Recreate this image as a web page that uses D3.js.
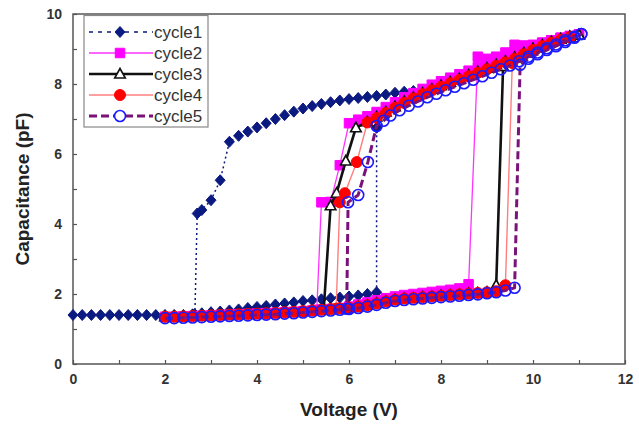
<!DOCTYPE html>
<html>
<head>
<meta charset="utf-8">
<script src="https://cdn.jsdelivr.net/npm/d3@7"></script>
<style>
  html, body { margin: 0; padding: 0; background: #fff; }
  svg { display: block; font-family: "Liberation Sans", Arial, sans-serif; }
</style>
</head>
<body>
<svg id="chart" width="639" height="425"></svg>
<script>
// ---------------- DATA ----------------
const seriesNames = ["cycle1", "cycle2", "cycle3", "cycle4", "cycle5"];
const xTicks = [0, 1, 2, 3, 4, 5, 6, 7, 8, 9, 10, 11, 12];
const yTicks = [0, 1, 2, 3, 4, 5, 6, 7, 8, 9, 10];

// cycle1 : forward sweep (0 -> 11 V), then reverse sweep (11 -> 2.65 V)
const c1FwdV = [0,0.2,0.4,0.6,0.8,1.0,1.2,1.4,1.6,1.8,2.0,2.2,2.4,2.6,2.8,3.0,3.2,3.4,3.6,3.8,4.0,4.2,4.4,4.6,4.8,5.0,5.2,5.4,5.6,5.8,6.0,6.2,6.4,6.6,6.6,6.8,7.0,7.2,7.4,7.6,7.8,8.0,8.2,8.4,8.6,8.8,9.0,9.2,9.4,9.6,9.8,10.0,10.2,10.4,10.6,10.8,11.0];
const c1FwdC = [1.40,1.40,1.40,1.40,1.40,1.40,1.40,1.40,1.40,1.40,1.40,1.40,1.40,1.42,1.45,1.48,1.50,1.53,1.56,1.60,1.63,1.66,1.70,1.73,1.76,1.80,1.82,1.85,1.88,1.90,1.93,1.96,2.00,2.05,6.75,7.20,7.35,7.50,7.62,7.74,7.85,7.95,8.05,8.15,8.25,8.35,8.45,8.55,8.65,8.75,8.88,9.00,9.10,9.20,9.28,9.35,9.40];
const c1RevV = [11.0,10.8,10.6,10.4,10.2,10.0,9.8,9.6,9.4,9.2,9.0,8.8,8.6,8.4,8.2,8.0,7.8,7.6,7.4,7.2,7.0,6.8,6.6,6.4,6.2,6.0,5.8,5.6,5.4,5.2,5.0,4.8,4.6,4.4,4.2,4.0,3.8,3.6,3.4,3.2,3.0,2.8,2.7,2.65];
const c1RevC = [9.40,9.35,9.28,9.20,9.10,9.00,8.88,8.75,8.65,8.55,8.45,8.35,8.25,8.15,8.05,7.95,7.87,7.82,7.80,7.78,7.75,7.70,7.66,7.63,7.60,7.57,7.53,7.48,7.43,7.37,7.30,7.21,7.11,7.00,6.88,6.76,6.64,6.52,6.35,5.25,4.68,4.40,4.30,1.42];

// cycle2
const c2FwdV = [2.0,2.2,2.4,2.6,2.8,3.0,3.2,3.4,3.6,3.8,4.0,4.2,4.4,4.6,4.8,5.0,5.2,5.4,5.6,5.8,6.0,6.2,6.4,6.6,6.8,7.0,7.2,7.4,7.6,7.8,8.0,8.2,8.4,8.6,8.8,9.0,9.2,9.4,9.6,9.8,10.0,10.2,10.4,10.6,10.8,11.0];
const c2FwdC = [1.35,1.35,1.36,1.37,1.38,1.39,1.40,1.41,1.42,1.43,1.44,1.45,1.46,1.48,1.49,1.51,1.53,1.55,1.57,1.60,1.64,1.70,1.76,1.82,1.88,1.93,1.97,2.00,2.03,2.06,2.09,2.12,2.16,2.28,8.78,8.72,8.78,8.90,9.12,9.10,9.12,9.18,9.25,9.32,9.37,9.42];
const c2RevV = [11.0,10.8,10.6,10.4,10.2,10.0,9.8,9.6,9.4,9.2,9.0,8.8,8.6,8.4,8.2,8.0,7.8,7.6,7.4,7.2,7.0,6.8,6.6,6.4,6.2,6.0,5.8,5.6,5.4,5.3];
const c2RevC = [9.42,9.37,9.32,9.25,9.18,9.10,9.00,8.88,8.78,8.68,8.58,8.48,8.38,8.28,8.18,8.08,7.98,7.86,7.74,7.62,7.48,7.34,7.20,7.08,6.98,6.88,5.68,4.63,4.62,1.55];

// cycle3
const c3FwdV = [2.0,2.2,2.4,2.6,2.8,3.0,3.2,3.4,3.6,3.8,4.0,4.2,4.4,4.6,4.8,5.0,5.2,5.4,5.6,5.8,6.0,6.2,6.4,6.6,6.8,7.0,7.2,7.4,7.6,7.8,8.0,8.2,8.4,8.6,8.8,9.0,9.2,9.35,9.6,9.8,10.0,10.2,10.4,10.6,10.8,11.0];
const c3FwdC = [1.35,1.35,1.36,1.37,1.38,1.39,1.40,1.41,1.42,1.43,1.44,1.45,1.46,1.48,1.49,1.51,1.53,1.55,1.57,1.59,1.61,1.64,1.68,1.73,1.79,1.84,1.87,1.89,1.91,1.93,1.95,1.97,1.99,2.01,2.03,2.05,2.25,8.50,8.75,8.88,9.00,9.10,9.20,9.28,9.35,9.40];
const c3RevV = [11.0,10.8,10.6,10.4,10.2,10.0,9.8,9.6,9.4,9.2,9.0,8.8,8.6,8.4,8.2,8.0,7.8,7.6,7.4,7.2,7.0,6.8,6.6,6.4,6.15,5.93,5.73,5.6,5.45];
const c3RevC = [9.40,9.35,9.28,9.20,9.10,9.00,8.88,8.75,8.65,8.55,8.45,8.35,8.25,8.15,8.05,7.95,7.85,7.74,7.62,7.50,7.35,7.20,7.06,6.92,6.75,5.80,4.88,4.52,1.55];

// cycle4
const c4FwdV = [2.0,2.2,2.4,2.6,2.8,3.0,3.2,3.4,3.6,3.8,4.0,4.2,4.4,4.6,4.8,5.0,5.2,5.4,5.6,5.8,6.0,6.2,6.4,6.6,6.8,7.0,7.2,7.4,7.6,7.8,8.0,8.2,8.4,8.6,8.8,9.0,9.2,9.4,9.55,9.8,10.0,10.2,10.4,10.6,10.8];
const c4FwdC = [1.35,1.35,1.36,1.37,1.38,1.39,1.40,1.41,1.42,1.43,1.44,1.45,1.46,1.48,1.49,1.51,1.53,1.55,1.57,1.59,1.61,1.64,1.68,1.73,1.79,1.84,1.87,1.89,1.91,1.93,1.95,1.97,1.99,2.01,2.03,2.05,2.08,2.25,8.60,8.85,8.97,9.08,9.18,9.26,9.33];
const c4RevV = [10.8,10.6,10.4,10.2,10.0,9.8,9.6,9.4,9.2,9.0,8.8,8.6,8.4,8.2,8.0,7.8,7.6,7.4,7.2,7.0,6.8,6.6,6.4,6.17,5.91,5.8,5.72];
const c4RevC = [9.33,9.26,9.16,9.06,8.96,8.84,8.72,8.62,8.52,8.42,8.32,8.22,8.12,8.02,7.92,7.82,7.71,7.59,7.46,7.32,7.17,7.03,6.90,5.77,4.88,4.62,1.58];

// cycle5
const c5FwdV = [2.0,2.2,2.4,2.6,2.8,3.0,3.2,3.4,3.6,3.8,4.0,4.2,4.4,4.6,4.8,5.0,5.2,5.4,5.6,5.8,6.0,6.2,6.4,6.6,6.8,7.0,7.2,7.4,7.6,7.8,8.0,8.2,8.4,8.6,8.8,9.0,9.2,9.4,9.6,9.72,9.9,10.1,10.3,10.5,10.7,10.9,11.05];
const c5FwdC = [1.31,1.31,1.32,1.33,1.34,1.35,1.36,1.37,1.38,1.39,1.40,1.41,1.42,1.44,1.45,1.47,1.49,1.51,1.53,1.55,1.57,1.60,1.64,1.69,1.75,1.80,1.83,1.85,1.87,1.89,1.91,1.93,1.95,1.97,1.99,2.02,2.05,2.10,2.18,8.55,8.72,8.85,8.97,9.08,9.20,9.32,9.43];
const c5RevV = [11.05,10.9,10.7,10.5,10.3,10.1,9.9,9.7,9.5,9.3,9.1,8.9,8.7,8.5,8.3,8.1,7.9,7.7,7.5,7.3,7.1,6.9,6.75,6.6,6.41,6.2,5.98,5.95];
const c5RevC = [9.43,9.35,9.25,9.13,9.02,8.90,8.78,8.65,8.53,8.42,8.32,8.22,8.12,8.02,7.92,7.82,7.72,7.62,7.50,7.38,7.25,7.10,6.95,6.80,5.77,4.83,4.62,1.58];

// ---------------- LAYOUT ----------------
const svg = d3.select("#chart");
const x = d3.scaleLinear().domain([0, 12]).range([73, 625]);
const y = d3.scaleLinear().domain([0, 10]).range([364, 14]);
const frameColor = "#555";

const cycles = [
  { name: seriesNames[0], fwd: [c1FwdV, c1FwdC], rev: [c1RevV, c1RevC],
    line: { stroke: "#0b1a80", width: 1.5, dash: "2,3" },
    marker: { type: "diamond", fill: "#0b1a80", stroke: "#0b1a80" } },
  { name: seriesNames[1], fwd: [c2FwdV, c2FwdC], rev: [c2RevV, c2RevC],
    line: { stroke: "#ff33ff", width: 1.3, dash: null },
    marker: { type: "square", fill: "#ff00ff", stroke: "#ff00ff" } },
  { name: seriesNames[2], fwd: [c3FwdV, c3FwdC], rev: [c3RevV, c3RevC],
    line: { stroke: "#111", width: 2.6, dash: null },
    marker: { type: "triangle", fill: "#fff", stroke: "#111" } },
  { name: seriesNames[3], fwd: [c4FwdV, c4FwdC], rev: [c4RevV, c4RevC],
    line: { stroke: "#ff7f7f", width: 1.4, dash: null },
    marker: { type: "circle", fill: "#ff0000", stroke: "#ff0000" } },
  { name: seriesNames[4], fwd: [c5FwdV, c5FwdC], rev: [c5RevV, c5RevC],
    line: { stroke: "#7a127a", width: 3, dash: "8,4" },
    marker: { type: "ocircle", fill: "none", stroke: "#1a1aff" } }
];

function markerPath(type) {
  switch (type) {
    case "diamond": return "M0,-5.5L5,0L0,5.5L-5,0Z";
    case "square": return d3.symbol(d3.symbolSquare, 90)();
    case "triangle": return "M0,-5.5L5.3,4L-5.3,4Z";
    default: return d3.symbol(d3.symbolCircle, 95)();
  }
}

// ---------------- AXES ----------------
const gx = svg.append("g").attr("transform", `translate(0,${y(0)})`)
  .call(d3.axisBottom(x).tickValues(xTicks)
    .tickFormat(d => d % 2 === 0 ? String(d) : "")
    .tickSizeInner(-4).tickSizeOuter(0).tickPadding(10));
const gy = svg.append("g").attr("transform", `translate(${x(0)},0)`)
  .call(d3.axisLeft(y).tickValues(yTicks)
    .tickFormat(d => d % 2 === 0 ? String(d) : "")
    .tickSizeInner(-4).tickSizeOuter(0).tickPadding(11));
[gx, gy].forEach(g => {
  g.select(".domain").remove();
  g.selectAll(".tick line").attr("stroke", frameColor).attr("stroke-width", 1.2);
  g.selectAll(".tick text").attr("fill", "#333").style("font-size", "14px")
    .style("font-weight", "bold")
    .style("font-family", '"Liberation Sans", Arial, sans-serif');
});

// frame
svg.append("rect")
  .attr("x", x(0)).attr("y", y(10))
  .attr("width", x(12) - x(0)).attr("height", y(0) - y(10))
  .attr("fill", "none").attr("stroke", frameColor).attr("stroke-width", 1.5);

// ---------------- SERIES ----------------
const line = d3.line().x(d => x(d[0])).y(d => y(d[1]));
const plot = svg.append("g");

cycles.forEach(c => {
  const pts = d3.zip(c.fwd[0], c.fwd[1]).concat(d3.zip(c.rev[0], c.rev[1]));
  const g = plot.append("g");
  g.append("path").datum(pts).attr("d", line)
    .attr("fill", "none").attr("stroke", c.line.stroke)
    .attr("stroke-width", c.line.width)
    .attr("stroke-dasharray", c.line.dash)
    .attr("stroke-linejoin", "round");
  const mp = markerPath(c.marker.type);
  g.selectAll("path.m").data(pts).join("path").attr("class", "m")
    .attr("d", mp)
    .attr("transform", d => `translate(${x(d[0])},${y(d[1])})`)
    .attr("fill", c.marker.fill)
    .attr("stroke", c.marker.stroke)
    .attr("stroke-width", c.marker.type === "ocircle" || c.marker.type === "triangle" ? 1.6 : 1);
});

// ---------------- LEGEND ----------------
const lg = svg.append("g");
lg.append("rect").attr("x", 84).attr("y", 15.5).attr("width", 124).attr("height", 111.5)
  .attr("fill", "#fff").attr("stroke", "#888").attr("stroke-width", 1.2);
cycles.forEach((c, i) => {
  const yy = 32 + i * 21;
  lg.append("line").attr("x1", 89).attr("x2", 153).attr("y1", yy).attr("y2", yy)
    .attr("stroke", c.line.stroke).attr("stroke-width", c.line.width)
    .attr("stroke-dasharray", c.line.dash === "2,3" ? "4,5" : c.line.dash);
  lg.append("path").attr("d", markerPath(c.marker.type))
    .attr("transform", `translate(120,${yy})`)
    .attr("fill", c.marker.type === "ocircle" ? "#fff" : c.marker.fill)
    .attr("stroke", c.marker.stroke)
    .attr("stroke-width", c.marker.type === "ocircle" || c.marker.type === "triangle" ? 1.6 : 1);
  lg.append("text").attr("x", 154).attr("y", yy + 6)
    .attr("fill", "#333").style("font-size", "17px").text(c.name);
});

// ---------------- TITLES ----------------
svg.append("text").attr("x", 349).attr("y", 416).attr("text-anchor", "middle")
  .attr("fill", "#222").style("font-size", "19px").style("font-weight", "bold")
  .text("Voltage (V)");
svg.append("text").attr("transform", "translate(29,189) rotate(-90)")
  .attr("text-anchor", "middle")
  .attr("fill", "#222").style("font-size", "19px").style("font-weight", "bold")
  .text("Capacitance (pF)");
</script>
</body>
</html>
